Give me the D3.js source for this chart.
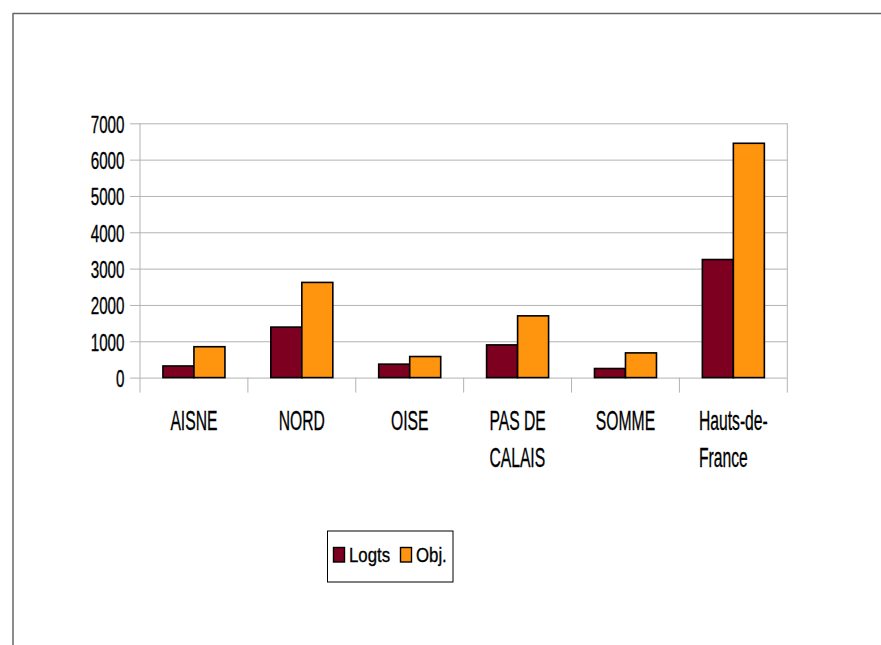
<!DOCTYPE html>
<html><head><meta charset="utf-8">
<script src="https://cdn.jsdelivr.net/npm/d3@7"></script>
<style>html,body{margin:0;padding:0;background:#fff;}svg{display:block;}</style>
</head><body>
<script>
const categories = ["AISNE", "NORD", "OISE", "PAS DE\nCALAIS", "SOMME", "Hauts-de-\nFrance"];
const seriesNames = ["Logts", "Obj."];
const logts = [320, 1390, 370, 900, 250, 3250];
const obj = [850, 2620, 580, 1700, 680, 6450];
const yTicks = [0, 1000, 2000, 3000, 4000, 5000, 6000, 7000];
const colors = ["#7e0021", "#ff950e"];

const W = 881, H = 645;
const plot = {left: 140, right: 787.3, top: 123.3, bottom: 377.6};

const svg = d3.select("body").append("svg").attr("width", W).attr("height", H);
svg.append("rect").attr("width", W).attr("height", H).attr("fill", "#fff");

// outer frame (top and left)
svg.append("line").attr("x1", 13).attr("x2", W).attr("y1", 13.5).attr("y2", 13.5).attr("stroke", "#666").attr("stroke-width", 1.3);
svg.append("line").attr("x1", 13).attr("x2", 13).attr("y1", 13).attr("y2", H).attr("stroke", "#666").attr("stroke-width", 1.5);

const x0 = d3.scaleBand().domain(categories).range([plot.left, plot.right]).paddingInner(0).paddingOuter(0);
const x1 = d3.scaleBand().domain(seriesNames).range([0, x0.bandwidth()]).paddingInner(0).paddingOuter(0.74);
const y = d3.scaleLinear().domain([0, 7000]).range([plot.bottom, plot.top]);

const grid = "#b3b3b3";
// gridlines + y ticks
const yAxis = d3.axisLeft(y).tickValues(yTicks).tickSize(-(plot.right - plot.left)).tickFormat("");
const gy = svg.append("g").attr("transform", `translate(${plot.left},0)`).call(yAxis);
gy.select(".domain").remove();
gy.selectAll(".tick line").attr("stroke", grid).attr("x1", -10);

// plot border (right) and y axis line
svg.append("line").attr("x1", plot.left).attr("x2", plot.left).attr("y1", plot.top).attr("y2", plot.bottom).attr("stroke", grid);
svg.append("line").attr("x1", plot.right).attr("x2", plot.right).attr("y1", plot.top).attr("y2", plot.bottom).attr("stroke", grid);

// x ticks at category boundaries
const bounds = categories.map(c => x0(c)).concat([plot.right]);
svg.selectAll(".xt").data(bounds).enter().append("line")
  .attr("x1", d => d).attr("x2", d => d).attr("y1", plot.bottom).attr("y2", plot.bottom + 15)
  .attr("stroke", grid);

function ctext(parent, x, yy, str, size, sx, anchor) {
  return parent.append("text")
    .attr("transform", `translate(${x},${yy}) scale(${sx},1)`)
    .attr("text-anchor", anchor)
    .attr("font-family", "Liberation Sans, Arial, sans-serif")
    .attr("font-size", size)
    .attr("fill", "#000")
    .attr("stroke", "#000").attr("stroke-width", 0.35)
    .text(str);
}

// y labels
yTicks.forEach(t => ctext(svg, 124.5, y(t) + 9.5, String(t), 24.5, 0.62, "end"));

// x labels (block centered, lines left aligned)
categories.forEach(c => {
  const lines = c.split("\n");
  const cx = x0(c) + x0.bandwidth() / 2;
  const g = svg.append("g");
  const nodes = lines.map((l, i) => ctext(g, 0, 430 + i * 36.7, l, 28, 0.56, "start"));
  const widths = nodes.map(n => n.node().getComputedTextLength() * 0.56);
  const maxW = d3.max(widths);
  const left = cx - maxW / 2;
  nodes.forEach((n, i) => n.attr("transform", `translate(${left},${430 + i * 36.7}) scale(0.56,1)`));
});

// bars
const data = categories.map((c, i) => ({c, vals: [logts[i], obj[i]]}));
const groups = svg.selectAll(".grp").data(data).enter().append("g")
  .attr("transform", d => `translate(${x0(d.c)},0)`);
groups.selectAll("rect").data(d => d.vals.map((v, j) => ({s: seriesNames[j], v, j}))).enter().append("rect")
  .attr("x", d => x1(d.s)).attr("width", x1.bandwidth())
  .attr("y", d => y(d.v)).attr("height", d => y(0) - y(d.v))
  .attr("fill", d => colors[d.j]).attr("stroke", "#000").attr("stroke-width", 1.6);

// legend
svg.append("rect").attr("x", 327.5).attr("y", 531).attr("width", 125.5).attr("height", 51)
  .attr("fill", "#fff").attr("stroke", "#000").attr("stroke-width", 1);
const legX = [333.5, 400.5], legT = [349, 416];
seriesNames.forEach((s, i) => {
  svg.append("rect").attr("x", legX[i]).attr("y", 547.5).attr("width", 11).attr("height", 14.5)
    .attr("fill", colors[i]).attr("stroke", "#000").attr("stroke-width", 1.4);
  ctext(svg, legT[i], 562, s, 21, 0.8, "start");
});
</script>
</body></html>
